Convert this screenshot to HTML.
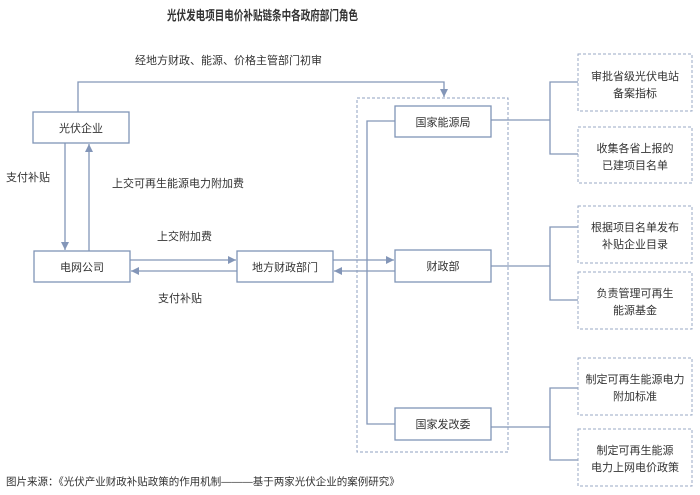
<!DOCTYPE html>
<html><head><meta charset="utf-8"><style>
html,body{margin:0;padding:0;background:#fff;}
svg{display:block;}
text{font-family:"Liberation Sans","Noto Sans CJK SC",sans-serif;fill:#333;}
</style></head><body>
<svg width="700" height="495" viewBox="0 0 700 495" xmlns="http://www.w3.org/2000/svg">
<defs>
<marker id="a" viewBox="0 0 10 10" refX="10" refY="5" markerWidth="8" markerHeight="8" markerUnits="userSpaceOnUse" orient="auto"><path d="M0,0 L10,5 L0,10 z" fill="#8396b8"/></marker>
</defs>
<text x="167" y="20" font-size="13" font-weight="bold" textLength="191" lengthAdjust="spacingAndGlyphs" fill="#444">光伏发电项目电价补贴链条中各政府部门角色</text>
<g fill="none" stroke="#8396b8" stroke-width="1.3">
<polyline points="78,112 78,82 444,82 444,97" marker-end="url(#a)"/>
<line x1="65" y1="143" x2="65" y2="250" marker-end="url(#a)"/>
<line x1="89" y1="251" x2="89" y2="144" marker-end="url(#a)"/>
<line x1="130" y1="260" x2="236" y2="260" marker-end="url(#a)"/>
<line x1="237" y1="271" x2="131" y2="271" marker-end="url(#a)"/>
<line x1="333" y1="260" x2="394" y2="260" marker-end="url(#a)"/>
<line x1="395" y1="271" x2="334" y2="271" marker-end="url(#a)"/>
<polyline points="395,121 367,121 367,424 395,424"/>
<polyline points="491,120 550,120"/>
<polyline points="578,82 550,82 550,154 578,154"/>
<polyline points="491,266 550,266"/>
<polyline points="578,227 550,227 550,300 578,300"/>
<polyline points="491,427 550,427"/>
<polyline points="578,388 550,388 550,460 578,460"/>
</g>
<g fill="#fff" stroke="#8094b6" stroke-width="1.3">
<rect x="33" y="112" width="96" height="31"/>
<rect x="34" y="251" width="96" height="31"/>
<rect x="237" y="251" width="96" height="31"/>
</g>
<rect x="357" y="98" width="151" height="354" fill="none" stroke="#8fa0c0" stroke-width="1" stroke-dasharray="3,2"/>
<g fill="#fff" stroke="#8094b6" stroke-width="1.3">
<rect x="395" y="106" width="96" height="31"/>
<rect x="395" y="250" width="96" height="32"/>
<rect x="395" y="408" width="96" height="32"/>
</g>
<g fill="#fff" stroke="#9aaac6" stroke-width="1" stroke-dasharray="3,2">
<rect x="578" y="54" width="114" height="57"/>
<rect x="578" y="127" width="114" height="56"/>
<rect x="578" y="206" width="114" height="57"/>
<rect x="578" y="272" width="114" height="57"/>
<rect x="578" y="358" width="114" height="57"/>
<rect x="578" y="429" width="114" height="57"/>
</g>
<g font-size="11" text-anchor="middle">
<text x="81" y="132">光伏企业</text>
<text x="82" y="271">电网公司</text>
<text x="285" y="271">地方财政部门</text>
<text x="443" y="126">国家能源局</text>
<text x="443" y="270">财政部</text>
<text x="443" y="428">国家发改委</text>
<text x="635" y="80">审批省级光伏电站</text>
<text x="635" y="97">备案指标</text>
<text x="635" y="152">收集各省上报的</text>
<text x="635" y="169">已建项目名单</text>
<text x="635" y="231">根据项目名单发布</text>
<text x="635" y="248">补贴企业目录</text>
<text x="635" y="297">负责管理可再生</text>
<text x="635" y="314">能源基金</text>
<text x="635" y="383">制定可再生能源电力</text>
<text x="635" y="400">附加标准</text>
<text x="635" y="454">制定可再生能源</text>
<text x="635" y="471">电力上网电价政策</text>
</g>
<g font-size="11">
<text x="135" y="64">经地方财政、能源、价格主管部门初审</text>
<text x="6" y="181">支付补贴</text>
<text x="112" y="187">上交可再生能源电力附加费</text>
<text x="157" y="240">上交附加费</text>
<text x="158" y="302">支付补贴</text>
</g>
<text x="6" y="485" font-size="10.5">图片来源：《光伏产业财政补贴政策的作用机制———基于两家光伏企业的案例研究》</text>
</svg>
</body></html>
